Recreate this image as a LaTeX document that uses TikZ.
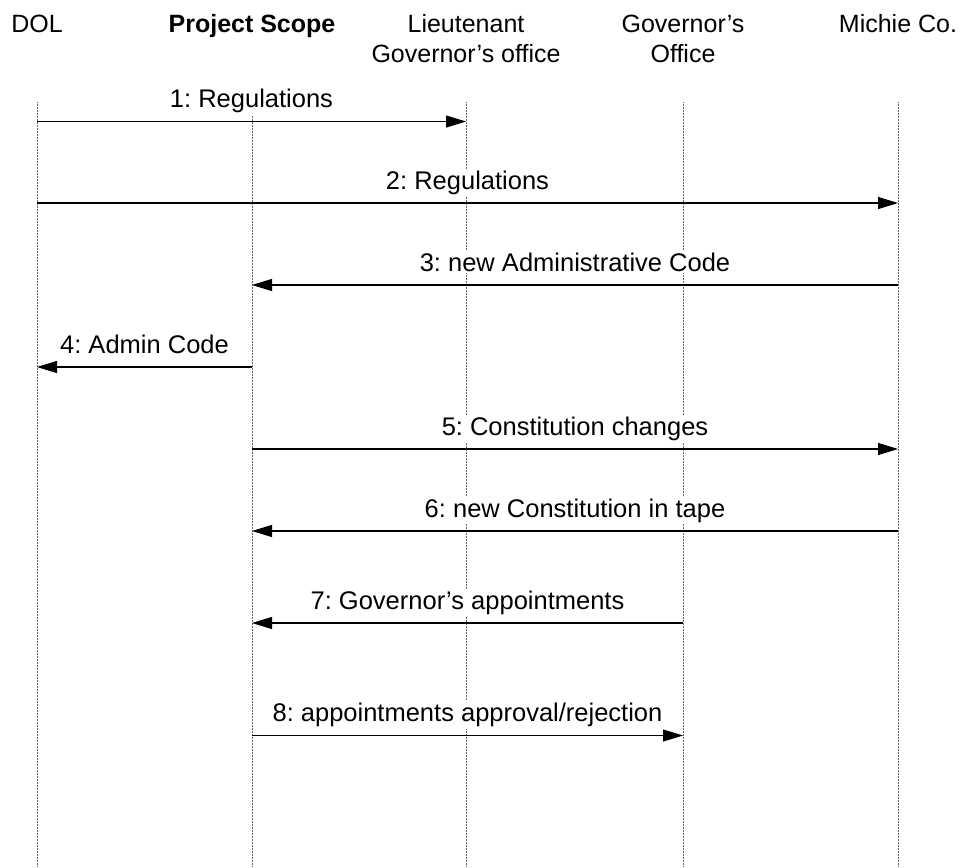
\documentclass[tikz,border=0pt]{standalone}
\usepackage{fontspec}
\setmainfont{Liberation Sans}
\frenchspacing
\usetikzlibrary{arrows.meta}
\begin{document}
\begin{tikzpicture}[x=1pt,y=-1pt,
  head/.style={anchor=base,inner sep=0pt,align=center,font=\fontsize{25}{30.5}\selectfont},
  lifeline/.style={draw=black!60,line width=1pt,dash pattern=on 1pt off 0.5pt},
  msg/.style={draw=black,line width=1.1pt,-{Triangle[length=20pt,width=12pt]}},
  lbl/.style={fill=white,inner sep=2pt,anchor=base,font=\fontsize{25.5}{30}\selectfont}]
\useasboundingbox (0,0) rectangle (963,867);
% headers
\node[head] (dol) at (37,33) {DOL};
\node[head,font=\fontsize{25}{30.5}\selectfont\bfseries] (ps) at (252,33) {Project Scope};
\node[head] (lg) at (466,63) {Lieutenant\\Governor’s office};
\node[head] (go) at (683,63) {Governor’s\\Office};
\node[head] (mc) at (898,33) {Michie Co.};
% lifelines
\foreach \n/\x in {a/37,b/252,c/466,d/683,e/898}{
  \coordinate (\n top) at (\x,102);
  \coordinate (\n bot) at (\x,867);
  \draw[lifeline] (\n top) -- (\n bot);
}
% message end points
\foreach \n/\x in {a/37,b/252,c/466,d/683,e/898}{
  \foreach \i/\y in {1/121.5,2/203,3/285,4/367,5/449,6/531,7/623,8/735.5}{
    \coordinate (\n\i) at (\x,\y);
  }
}
% messages
\draw[msg] (a1) -- node[lbl,yshift=14pt] (m1) {1: Regulations} (c1);
\draw[msg] (a2) -- node[lbl,yshift=14pt] (m2) {2: Regulations} (e2);
\draw[msg] (e3) -- node[lbl,yshift=14pt] (m3) {3: new Administrative Code} (b3);
\draw[msg] (b4) -- node[lbl,yshift=14pt] (m4) {4: Admin Code} (a4);
\draw[msg] (b5) -- node[lbl,yshift=14pt] (m5) {5: Constitution changes} (e5);
\draw[msg] (e6) -- node[lbl,yshift=14pt] (m6) {6: new Constitution in tape} (b6);
\draw[msg] (d7) -- node[lbl,yshift=14pt] (m7) {7: Governor’s appointments} (b7);
\draw[msg] (b8) -- node[lbl,yshift=14pt] (m8) {8: appointments approval/rejection} (d8);
\end{tikzpicture}
\end{document}
